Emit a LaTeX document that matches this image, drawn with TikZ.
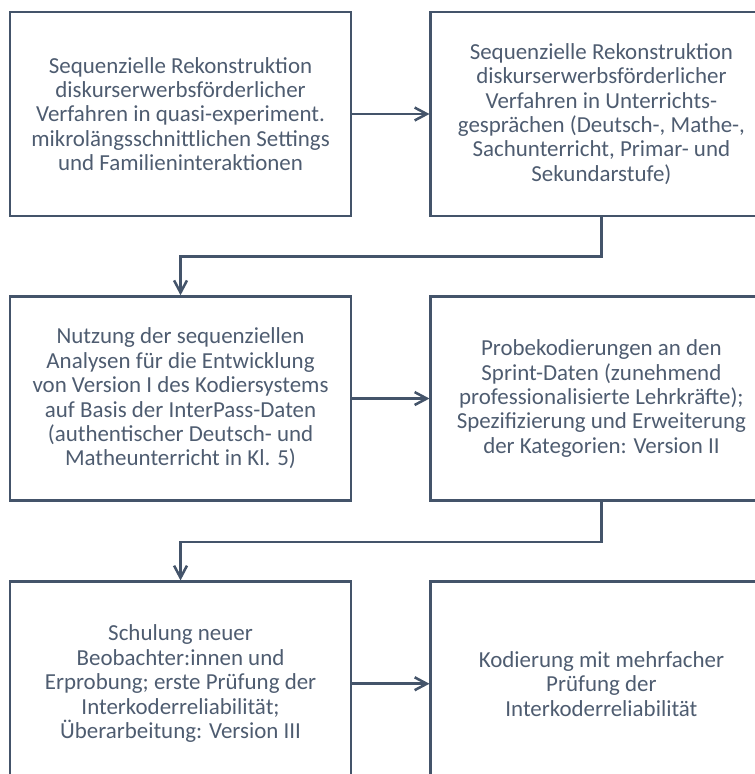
\documentclass[tikz,border=0pt]{standalone}
\usepackage{fontspec}
\setmainfont{Carlito}
\usetikzlibrary{arrows.meta, positioning}
\definecolor{slate}{RGB}{68,84,106}
\definecolor{slatetext}{RGB}{78,92,112}

\begin{document}
\begin{tikzpicture}[
        node distance=58.5pt and 57.75pt,
        stage/.style={rectangle, draw=slate, line width=1.9pt, minimum width=256pt, minimum height=153pt, align=center, text=slatetext, font=\fontsize{17.2}{18.3}\selectfont},
        arrow/.style={-{Straight Barb[length=3.2mm, width=3.4mm]}, draw=slate, line width=1.9pt}
    ]
        \useasboundingbox (0,0) rectangle (566.25pt,-580.5pt);
        \clip (0,0) rectangle (566.25pt,-580.5pt);

        \node[stage] (seqsettings) at (135.4pt,-85.5pt) {Sequenzielle Rekonstruktion\\diskurserwerbsförderlicher\\Verfahren in quasi-experiment.\\mikrolängsschnittlichen Settings\\und Familieninteraktionen};
        \node[stage, right=of seqsettings] (seqclass) {Sequenzielle Rekonstruktion\\diskurserwerbsförderlicher\\Verfahren in Unterrichts-\\gesprächen (Deutsch-, Mathe-,\\Sachunterricht, Primar- und\\Sekundarstufe)};
        \node[stage, below=of seqsettings] (versionone) {Nutzung der sequenziellen\\Analysen für die Entwicklung\\von Version I des Kodiersystems\\auf Basis der InterPass-Daten\\(authentischer Deutsch- und\\Matheunterricht in Kl. 5)};
        \node[stage, right=of versionone] (versiontwo) {Probekodierungen an den\\Sprint-Daten (zunehmend\\professionalisierte Lehrkräfte);\\Spezifizierung und Erweiterung\\der Kategorien: Version II};
        \node[stage, below=59pt of versionone] (versionthree) {Schulung neuer\\Beobachter:innen und\\Erprobung; erste Prüfung der\\Interkoderreliabilität;\\Überarbeitung: Version III};
        \node[stage, right=of versionthree] (coding) {Kodierung mit mehrfacher\\Prüfung der\\Interkoderreliabilität};

        \draw[arrow] (seqsettings) -- (seqclass);
        \draw[arrow] (seqclass.south) -- ++(0,-29.25pt) -| (versionone.north);
        \draw[arrow] (versionone) -- (versiontwo);
        \draw[arrow] (versiontwo.south) -- ++(0,-30pt) -| (versionthree.north);
        \draw[arrow] (versionthree) -- (coding);
    \end{tikzpicture}
\end{document}
